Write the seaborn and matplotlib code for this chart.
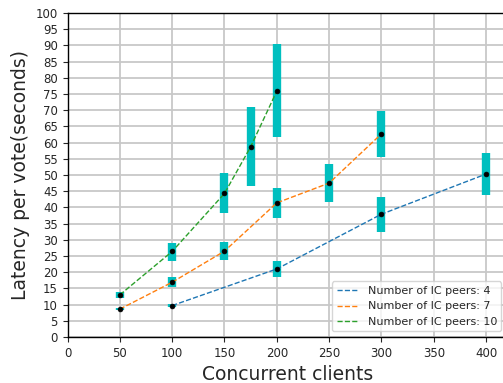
import matplotlib
matplotlib.use("Agg")
import matplotlib.pyplot as plt
import seaborn as sns
import pandas as pd
import numpy as np

# Data
x4 = [100, 200, 300, 400]
y4 = [9.7, 21.0, 37.9, 50.3]
lo4 = [9.2, 18.4, 32.3, 43.7]
hi4 = [10.2, 23.5, 43.2, 56.8]

x7 = [50, 100, 150, 200, 250, 300]
y7 = [8.6, 16.9, 26.5, 41.4, 47.5, 62.7]
lo7 = [8.2, 15.3, 23.7, 36.7, 41.8, 55.6]
hi7 = [9.0, 18.5, 29.3, 46.0, 53.3, 69.7]

x10 = [50, 100, 150, 175, 200]
y10 = [13.0, 26.4, 44.3, 58.7, 75.9]
lo10 = [11.9, 23.5, 38.3, 46.7, 61.6]
hi10 = [13.8, 29.1, 50.5, 70.9, 90.3]

labels = ["Number of IC peers: 4", "Number of IC peers: 7", "Number of IC peers: 10"]
series = [(x4, y4, lo4, hi4), (x7, y7, lo7, hi7), (x10, y10, lo10, hi10)]

rows = []
for lab, (xs, ys, los, his) in zip(labels, series):
    for xv, yv, l, h in zip(xs, ys, los, his):
        rows.append({"clients": xv, "latency": yv, "lo": l, "hi": h, "peers": lab})
df = pd.DataFrame(rows)

sns.set_style("ticks")
plt.rcParams['font.family'] = ['DejaVu Sans']

fig = plt.figure(figsize=(5.03, 3.83), dpi=100)
ax = fig.add_axes([0.1342, 0.1201, 0.8738, 0.846])

palette = ["#1f77b4", "#ff7f0e", "#2ca02c"]
# error bars
for lab, col in zip(labels, palette):
    d = df[df.peers == lab]
    ax.errorbar(d.clients, d.latency,
                yerr=[d.latency - d.lo, d.hi - d.latency],
                fmt='none', ecolor='c', elinewidth=6, zorder=2)

sns.lineplot(data=df, x="clients", y="latency", hue="peers", hue_order=labels,
             palette=palette, linestyle="--", linewidth=1, ax=ax, zorder=3,
             estimator=None, sort=True)
sns.scatterplot(data=df, x="clients", y="latency", color="black", s=12,
                ax=ax, zorder=4, legend=False, edgecolor="black", linewidth=0.5)

for line in ax.get_lines():
    line.set_linestyle("--")

ax.set_xlim(0, 420)
ax.set_ylim(0, 100)
ax.set_xticks(np.arange(0, 401, 50))
ax.set_yticks(np.arange(0, 101, 5))
ax.tick_params(labelsize=8.5)
ax.grid(True, color="#c8c8c8", linewidth=1.3)
ax.set_axisbelow(True)
ax.set_xlabel("Concurrent clients", fontsize=13.5)
ax.set_ylabel("Latency per vote(seconds)", fontsize=13.5)
for s in ax.spines.values():
    s.set_color("black")
    s.set_linewidth(1)

leg = ax.legend(loc="lower right", fontsize=8)
for h in leg.get_lines():
    h.set_linestyle("--")

fig.savefig("out.png", dpi=100)
